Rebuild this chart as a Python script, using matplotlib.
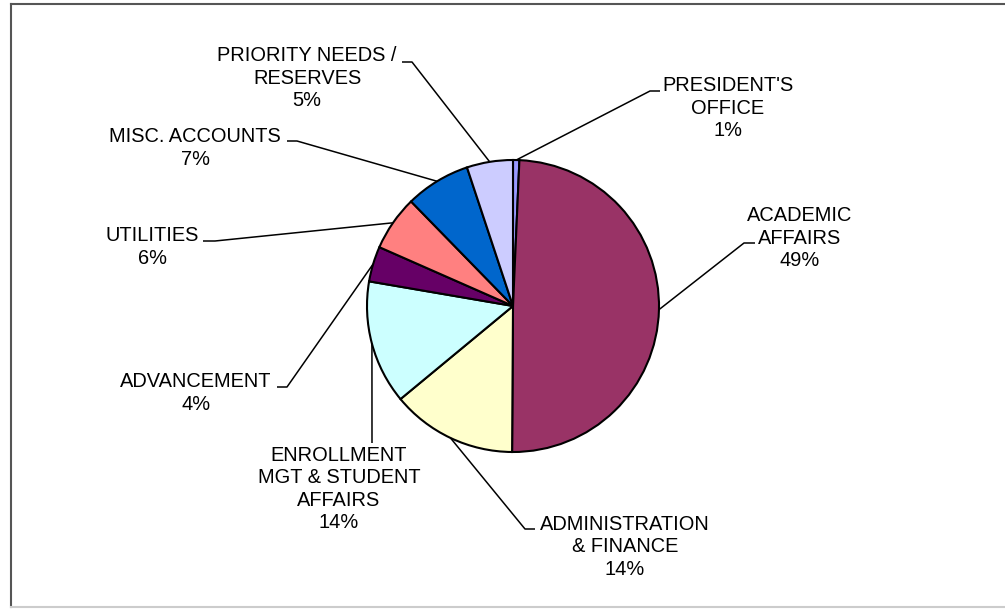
import matplotlib
matplotlib.use("Agg")
import matplotlib.pyplot as plt
import numpy as np
from matplotlib.lines import Line2D

plt.rcParams["font.family"] = ["Liberation Sans", "DejaVu Sans"]

# budget shares by division, clockwise from 12 o'clock
labels = [
    "PRESIDENT'S\nOFFICE",
    "ACADEMIC\nAFFAIRS",
    "ADMINISTRATION\n& FINANCE",
    "ENROLLMENT\nMGT & STUDENT\nAFFAIRS",
    "ADVANCEMENT",
    "UTILITIES",
    "MISC. ACCOUNTS",
    "PRIORITY NEEDS /\nRESERVES",
]
shares = [0.7, 49.4, 13.9, 13.7, 3.9, 6.1, 7.2, 5.1]
colors = ["#9999FF", "#993366", "#FFFFCC", "#CCFFFF",
          "#660066", "#FF8080", "#0066CC", "#CCCCFF"]

W, H = 1005, 609

# label layout in pixels from the top-left corner:
# text block centre, leader elbow, end of the short horizontal tick
text_pos = [(728, 108), (800, 238), (625, 547), (339, 489),
            (196, 393), (152, 247), (195, 148), (307, 78)]
elbows = [(650, 91), (744, 243), (525, 529), (372, 443),
          (287, 387), (215, 241), (297, 141), (412, 62)]
tick_ends = [(660, 91), (755, 243), (535, 529), (372, 443),
             (277, 387), (203, 241), (287, 141), (402, 62)]

center_px = (513, 306)
radius_px = 146


def flip(p):
    return p[0], H - p[1]


fig = plt.figure(figsize=(W / 100, H / 100), dpi=100)
ax = fig.add_axes([0, 0, 1, 1])

cx, cy = flip(center_px)
wedges, _ = ax.pie(
    shares,
    colors=colors,
    startangle=90,
    counterclock=False,
    center=(cx, cy),
    radius=radius_px,
    wedgeprops=dict(edgecolor="black", linewidth=1.5),
    frame=True,
)
ax.set_xlim(0, W)
ax.set_ylim(0, H)
ax.set_aspect("equal")
ax.axis("off")

for wedge, label, value, tp, el, te in zip(
        wedges, labels, shares, text_pos, elbows, tick_ends):
    mid = np.deg2rad((wedge.theta1 + wedge.theta2) / 2)
    ex = cx + radius_px * np.cos(mid)
    ey = cy + radius_px * np.sin(mid)
    ex2, ey2 = flip(el)
    tx, ty = flip(te)
    ax.plot([ex, ex2, tx], [ey, ey2, ty], color="black", lw=1.1,
            solid_capstyle="butt", zorder=1)
    x, y = flip(tp)
    ax.text(x, y, f"{label}\n{value:.0f}%", ha="center", va="center",
            multialignment="center", fontsize=14.4, linespacing=1.24,
            color="black")

# chart-area border: dark top/left, light bottom
fig.add_artist(Line2D([11 / W, 1], [1 - 4 / H, 1 - 4 / H],
                      transform=fig.transFigure, color="#555555", lw=1.5))
fig.add_artist(Line2D([11 / W, 11 / W], [1 - 4 / H, 1 - 607 / H],
                      transform=fig.transFigure, color="#555555", lw=1.5))
fig.add_artist(Line2D([11 / W, 1], [1 - 607 / H, 1 - 607 / H],
                      transform=fig.transFigure, color="#CCCCCC", lw=1.5))

fig.savefig("out.png", dpi=100)
plt.close(fig)
